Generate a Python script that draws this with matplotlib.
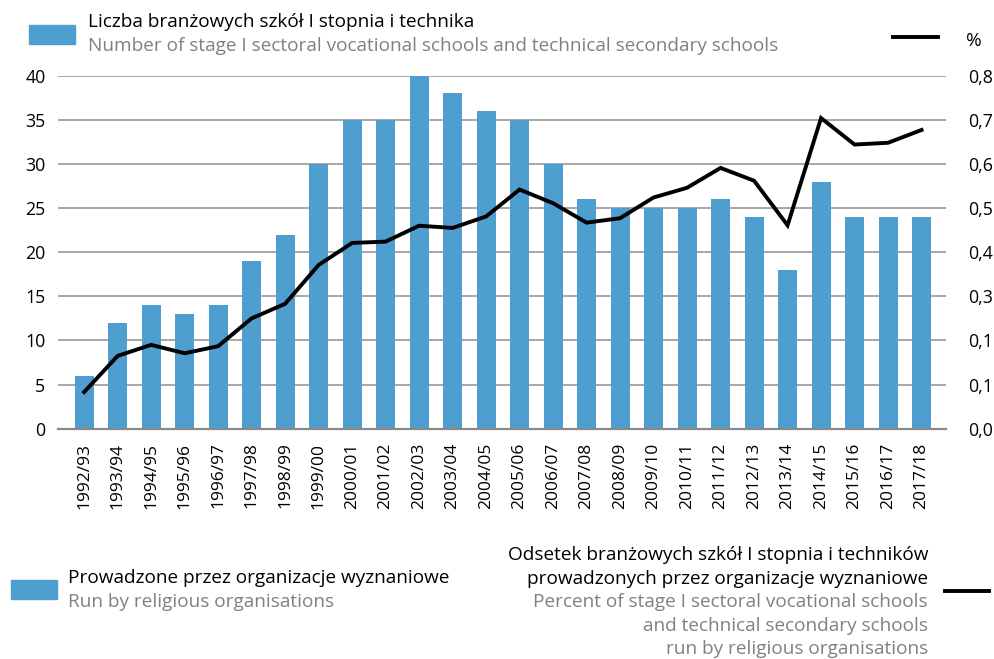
import matplotlib
matplotlib.use("Agg")
import matplotlib.pyplot as plt
from matplotlib.patches import Rectangle
from matplotlib.lines import Line2D

plt.rcParams['font.family'] = ['Open Sans', 'DejaVu Sans']

years = ["1992/93", "1993/94", "1994/95", "1995/96", "1996/97", "1997/98", "1998/99",
         "1999/00", "2000/01", "2001/02", "2002/03", "2003/04", "2004/05", "2005/06",
         "2006/07", "2007/08", "2008/09", "2009/10", "2010/11", "2011/12", "2012/13",
         "2013/14", "2014/15", "2015/16", "2016/17", "2017/18"]
schools = [6, 12, 14, 13, 14, 19, 22, 30, 35, 35, 40, 38, 36, 35, 30, 26, 25, 25, 25,
           26, 24, 18, 28, 24, 24, 24]
percent = [0.083, 0.165, 0.190, 0.171, 0.187, 0.250, 0.283, 0.371, 0.421, 0.424, 0.460,
           0.455, 0.481, 0.542, 0.511, 0.467, 0.477, 0.524, 0.546, 0.591, 0.562, 0.461,
           0.704, 0.644, 0.648, 0.677]
left_ticks = [0, 5, 10, 15, 20, 25, 30, 35, 40]
right_ticks = [0.0, 0.1, 0.2, 0.3, 0.4, 0.5, 0.6, 0.7, 0.8]
right_labels = ["0,0", "0,1", "0,1", "0,3", "0,4", "0,5", "0,6", "0,7", "0,8"]

BLUE = "#4E9ED0"
GRAY_TXT = "#808080"
FS = 13.7
W, H = 994, 659
fig = plt.figure(figsize=(W / 100, H / 100), dpi=100)
ax = fig.add_axes([58 / W, 1 - 428.7 / H, (946 - 58) / W, (428.7 - 75.7) / H])

x = list(range(len(years)))
ax.bar(x, schools, width=0.57, color=BLUE, zorder=2)
ax.set_xlim(-0.78, len(years) - 0.27)
ax.set_ylim(0, 40)
ax.set_yticks(left_ticks)
ax.yaxis.grid(True, color="#a0a0a0", lw=1.3, zorder=0)
ax.set_axisbelow(True)
for s in ["top", "left", "right"]:
    ax.spines[s].set_visible(False)
ax.spines["bottom"].set_color("#8a8a8a")
ax.spines["bottom"].set_linewidth(1.6)
ax.spines["bottom"].set_zorder(3)
ax.set_xticks(x)
ax.set_xticklabels(years, rotation=90, fontsize=12.5)
ax.tick_params(axis="x", length=0, pad=10)
ax.tick_params(axis="y", length=0, pad=9, labelsize=12.8)

ax2 = ax.twinx()
ax2.plot(x, percent, color="black", lw=2.8, zorder=4, solid_joinstyle="miter")
ax2.set_ylim(0, 0.8)
ax2.set_yticks(right_ticks)
ax2.set_yticklabels(right_labels)
ax2.tick_params(axis="y", length=0, pad=16, labelsize=12.8)
for s in ["top", "left", "right", "bottom"]:
    ax2.spines[s].set_visible(False)

# top legend
fig.patches.append(Rectangle((29 / W, 1 - 44 / H), 46 / W, 19 / H, transform=fig.transFigure,
                             color=BLUE))
fig.text(88 / W, 1 - 22 / H, "Liczba branżowych szkół I stopnia i technika", fontsize=FS,
         va="center", ha="left", color="black")
fig.text(88 / W, 1 - 46 / H, "Number of stage I sectoral vocational schools and technical secondary schools",
         fontsize=FS, va="center", ha="left", color=GRAY_TXT)
fig.lines.append(Line2D([893 / W, 938 / W], [1 - 37 / H, 1 - 37 / H], transform=fig.transFigure,
                        color="black", lw=2.8))
fig.text(966 / W, 1 - 41 / H, "%", fontsize=FS, va="center", ha="left")

# bottom legend left
fig.patches.append(Rectangle((11 / W, 1 - 599 / H), 46 / W, 19 / H, transform=fig.transFigure,
                             color=BLUE))
fig.text(68 / W, 1 - 578 / H, "Prowadzone przez organizacje wyznaniowe", fontsize=FS,
         va="center", ha="left")
fig.text(68 / W, 1 - 602 / H, "Run by religious organisations", fontsize=FS,
         va="center", ha="left", color=GRAY_TXT)

# bottom legend right
rlines = [("Odsetek branżowych szkół I stopnia i techników", "black", 555),
          ("prowadzonych przez organizacje wyznaniowe", "black", 579),
          ("Percent of stage I sectoral vocational schools", GRAY_TXT, 602),
          ("and technical secondary schools", GRAY_TXT, 626),
          ("run by religious organisations", GRAY_TXT, 649)]
for t, c, yy in rlines:
    fig.text(928 / W, 1 - yy / H, t, fontsize=FS, va="center", ha="right", color=c)
fig.lines.append(Line2D([945 / W, 989 / W], [1 - 591 / H, 1 - 591 / H], transform=fig.transFigure,
                        color="black", lw=2.8))

fig.savefig("out.png", dpi=100)
